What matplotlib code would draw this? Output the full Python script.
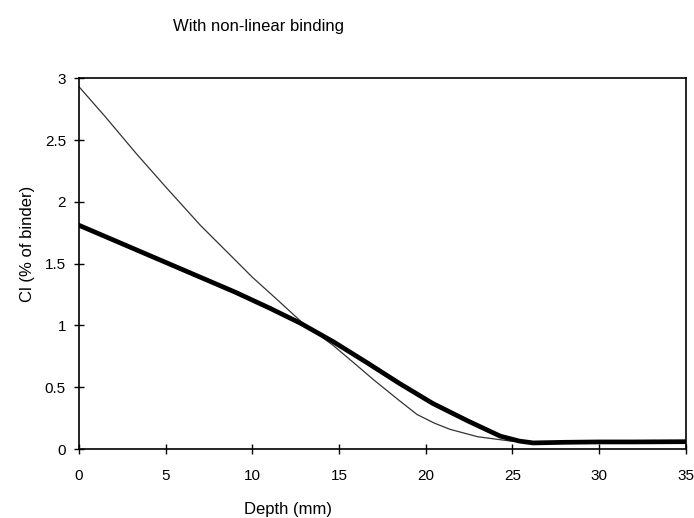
import matplotlib.pyplot as plt

# depth (mm) and chloride (% of binder)
depth_thin = [0, 1.5, 3.3, 5, 7, 8.5, 10, 11.5, 12.9, 14.65, 16, 17, 18.5, 19.5,
              20.5, 21.4, 23, 24.9, 26, 28, 30, 32, 35]
cl_thin = [2.93, 2.69, 2.39, 2.12, 1.81, 1.60, 1.39, 1.20, 1.02, 0.84, 0.68, 0.56,
           0.39, 0.28, 0.21, 0.16, 0.10, 0.065, 0.055, 0.055, 0.055, 0.055, 0.055]

depth_thick = [0, 2, 4, 6, 7, 9, 11, 12.75, 14.65, 16.6, 18.5, 20.4, 22.4, 24.3,
               25.4, 26.2, 28, 30, 32, 35]
cl_thick = [1.81, 1.69, 1.57, 1.45, 1.39, 1.27, 1.14, 1.02, 0.87, 0.70, 0.53, 0.37,
            0.23, 0.105, 0.065, 0.05, 0.055, 0.058, 0.058, 0.06]

plt.rcParams['font.family'] = ['Liberation Sans', 'DejaVu Sans']

fig = plt.figure(figsize=(6.94, 5.18), dpi=100)
ax = fig.add_axes([0.114, 0.133, 0.874, 0.716])

ax.plot(depth_thin, cl_thin, color='#333333', lw=0.9)
ax.plot(depth_thick, cl_thick, color='black', lw=3.4, solid_capstyle='round')

ax.set_xlim(0, 35)
ax.set_ylim(0, 3)
ax.set_xticks(range(0, 36, 5))
ax.set_yticks([0, 0.5, 1, 1.5, 2, 2.5, 3])
ax.set_yticklabels(['0', '0.5', '1', '1.5', '2', '2.5', '3'])
ax.tick_params(direction='inout', length=7, width=1, labelsize=11)
ax.tick_params(axis='x', pad=11)
ax.tick_params(axis='y', pad=6)
for s in ax.spines.values():
    s.set_linewidth(1.2)

fig.text(0.372, 0.948, 'With non-linear binding', ha='center', va='center', fontsize=12)
fig.text(0.415, 0.016, 'Depth (mm)', ha='center', va='center', fontsize=12)
fig.text(0.04, 0.53, 'Cl (% of binder)', ha='center', va='center', rotation=90, fontsize=12)

fig.savefig('out.png', dpi=100)
